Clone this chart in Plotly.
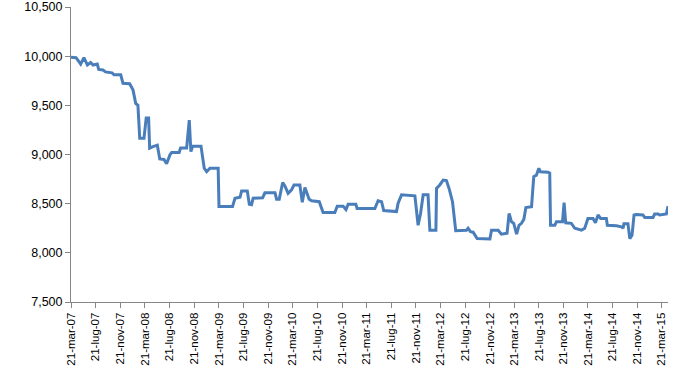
import plotly.graph_objects as go

dates = [
    "2007-03-21", "2007-04-15", "2007-05-08", "2007-05-24", "2007-06-10", "2007-06-26", "2007-07-08",
    "2007-07-29", "2007-08-05", "2007-08-26", "2007-09-07", "2007-10-10", "2007-10-20", "2007-11-22",
    "2007-12-03", "2008-01-05", "2008-01-22", "2008-02-04", "2008-02-15", "2008-02-24", "2008-03-16",
    "2008-03-27", "2008-04-08", "2008-04-13", "2008-04-29", "2008-05-21", "2008-06-02", "2008-06-23",
    "2008-07-06", "2008-07-23", "2008-07-31", "2008-09-06", "2008-09-13", "2008-10-13", "2008-10-26",
    "2008-11-03", "2008-11-12", "2008-12-23", "2009-01-08", "2009-01-20", "2009-02-05", "2009-03-18",
    "2009-03-22", "2009-05-28", "2009-06-09", "2009-07-04", "2009-07-12", "2009-08-09", "2009-08-19",
    "2009-08-30", "2009-09-07", "2009-10-24", "2009-11-04", "2009-12-24", "2010-01-01", "2010-01-14",
    "2010-01-31", "2010-02-11", "2010-02-27", "2010-03-16", "2010-03-28", "2010-04-26", "2010-05-08",
    "2010-05-21", "2010-06-11", "2010-06-23", "2010-07-31", "2010-08-19", "2010-10-16", "2010-10-28",
    "2010-11-26", "2010-12-10", "2010-12-21", "2011-01-28", "2011-02-03", "2011-05-02", "2011-05-18",
    "2011-06-04", "2011-06-15", "2011-07-23", "2011-08-17", "2011-08-25", "2011-09-11", "2011-11-16",
    "2011-12-02", "2011-12-14", "2011-12-27", "2012-01-20", "2012-01-29", "2012-02-28", "2012-03-02",
    "2012-03-18", "2012-04-04", "2012-04-20", "2012-05-03", "2012-05-20", "2012-06-05", "2012-07-28",
    "2012-08-05", "2012-08-17", "2012-08-30", "2012-09-19", "2012-11-21", "2012-11-29", "2013-01-01",
    "2013-01-17", "2013-02-14", "2013-02-24", "2013-03-08", "2013-03-19", "2013-04-02", "2013-04-14",
    "2013-04-26", "2013-05-08", "2013-05-18", "2013-06-15", "2013-06-26", "2013-07-09", "2013-07-21",
    "2013-07-29", "2013-09-05", "2013-09-13", "2013-09-17", "2013-10-08", "2013-10-16", "2013-11-15",
    "2013-11-23", "2013-12-01", "2013-12-29", "2014-01-15", "2014-02-17", "2014-03-05", "2014-03-21",
    "2014-04-15", "2014-04-27", "2014-05-10", "2014-05-23", "2014-06-20", "2014-06-25", "2014-08-09",
    "2014-09-03", "2014-09-11", "2014-09-15", "2014-10-05", "2014-10-14", "2014-10-25", "2014-11-04",
    "2014-11-16", "2014-12-18", "2014-12-27", "2015-02-06", "2015-02-14", "2015-03-03", "2015-03-11",
    "2015-04-13", "2015-04-21",
]

values = [
    9990, 9985, 9920, 9985, 9910, 9935, 9910,
    9920, 9865, 9860, 9840, 9830, 9810, 9810,
    9725, 9720, 9655, 9520, 9500, 9165, 9165,
    9370, 9370, 9065, 9080, 9095, 8955, 8950,
    8905, 9000, 9020, 9020, 9065, 9065, 9350,
    9030, 9085, 9085, 8860, 8825, 8860, 8860,
    8470, 8470, 8555, 8565, 8630, 8630, 8495,
    8490, 8555, 8560, 8610, 8610, 8545, 8545,
    8715, 8680, 8605, 8640, 8690, 8690, 8515,
    8665, 8545, 8530, 8520, 8410, 8410, 8475,
    8475, 8440, 8495, 8495, 8450, 8450, 8530,
    8520, 8430, 8420, 8420, 8505, 8590, 8580,
    8280, 8400, 8590, 8590, 8230, 8230, 8655,
    8690, 8740, 8735, 8655, 8520, 8225, 8230,
    8250, 8215, 8210, 8145, 8140, 8230, 8230,
    8190, 8200, 8400, 8315, 8300, 8190, 8280,
    8300, 8340, 8460, 8470, 8775, 8790, 8860,
    8825, 8820, 8810, 8280, 8280, 8315, 8315,
    8510, 8305, 8300, 8250, 8230, 8250, 8350,
    8350, 8305, 8385, 8350, 8350, 8280, 8275,
    8265, 8250, 8295, 8295, 8145, 8180, 8385,
    8390, 8385, 8360, 8360, 8395, 8395, 8385,
    8395, 8475,
]

tick_dates = [
    "2007-03-21", "2007-07-21", "2007-11-21", "2008-03-21", "2008-07-21", "2008-11-21",
    "2009-03-21", "2009-07-21", "2009-11-21", "2010-03-21", "2010-07-21", "2010-11-21",
    "2011-03-21", "2011-07-21", "2011-11-21", "2012-03-21", "2012-07-21", "2012-11-21",
    "2013-03-21", "2013-07-21", "2013-11-21", "2014-03-21", "2014-07-21", "2014-11-21",
    "2015-03-21",
]
tick_labels = [
    "21-mar-07", "21-lug-07", "21-nov-07", "21-mar-08", "21-lug-08", "21-nov-08",
    "21-mar-09", "21-lug-09", "21-nov-09", "21-mar-10", "21-lug-10", "21-nov-10",
    "21-mar-11", "21-lug-11", "21-nov-11", "21-mar-12", "21-lug-12", "21-nov-12",
    "21-mar-13", "21-lug-13", "21-nov-13", "21-mar-14", "21-lug-14", "21-nov-14",
    "21-mar-15",
]
y_ticks = [7500, 8000, 8500, 9000, 9500, 10000, 10500]

fig = go.Figure()
fig.add_trace(go.Scatter(
    x=dates, y=values, mode="lines",
    line=dict(color="#4A7EBB", width=3),
    showlegend=False, hoverinfo="skip",
))

axis_color = "#868686"
fig.update_layout(
    width=693, height=382,
    margin=dict(l=71, r=25, t=7, b=80),
    paper_bgcolor="white", plot_bgcolor="white",
    font=dict(family="Liberation Sans, Arial, sans-serif", color="#000000", size=12),
)
fig.update_xaxes(
    type="date", automargin=False,
    range=["2007-03-21", "2015-04-21"],
    tickmode="array", tickvals=tick_dates, ticktext=tick_labels,
    tickangle=-90, tickfont=dict(size=11.5),
    showgrid=False, zeroline=False,
    showline=True, linecolor=axis_color, linewidth=1,
    ticks="outside", ticklen=5, tickcolor=axis_color,
)
fig.update_yaxes(
    automargin=False,
    range=[7500, 10500],
    tickmode="array", tickvals=y_ticks,
    tickformat=",d",
    showgrid=False, zeroline=False,
    showline=True, linecolor=axis_color, linewidth=1,
    ticks="outside", ticklen=5, tickcolor=axis_color,
    tickfont=dict(size=12.5),
)

fig.write_html(
    "out.html",
    config={"displayModeBar": False},
    post_script="document.body.style.margin='0';document.body.style.padding='0';",
)
